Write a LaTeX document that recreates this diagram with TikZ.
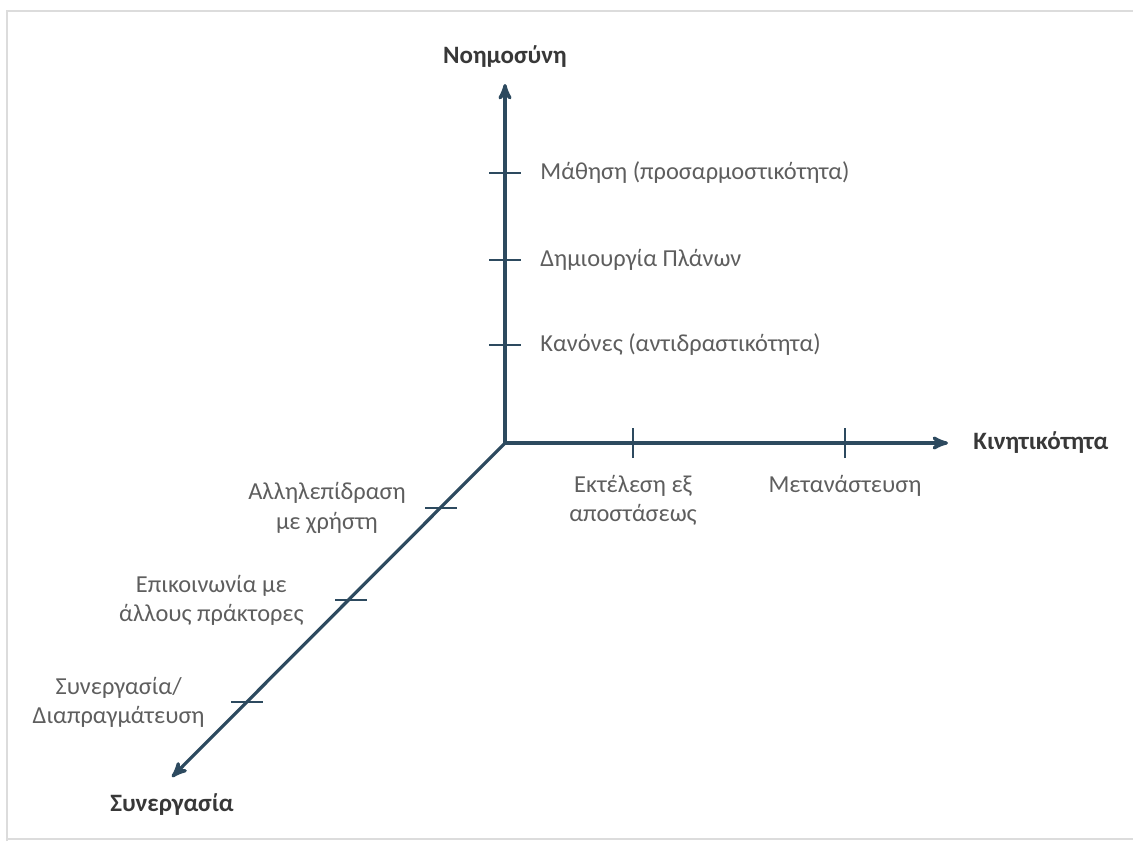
\documentclass[tikz,border=0pt]{standalone}
\usepackage{fontspec}
\setmainfont{Carlito}
\usetikzlibrary{arrows,positioning}
\definecolor{axisblue}{HTML}{2D4A5F}
\definecolor{labelgray}{HTML}{5E5E5E}
\definecolor{titlegray}{HTML}{383838}
\definecolor{framegray}{HTML}{DCDCDC}
\begin{document}
\begin{tikzpicture}[x=0.5pt,y=-0.5pt,>=stealth',
    axis/.style={->,draw=axisblue,line width=1.6pt},
    tick/.style={draw=axisblue,line width=1.4pt},
    label/.style={font=\fontsize{12.2}{14.6}\selectfont,text=labelgray,inner sep=0pt,align=center},
    title/.style={font=\fontsize{12.5}{15}\selectfont\bfseries,text=titlegray,inner sep=0pt}]

\useasboundingbox (0,0) rectangle (1133,841);
\draw[framegray,line width=1.2pt] (7,841) -- (7,11) -- (1133,11);
\draw[framegray,line width=1pt] (7,839) -- (1133,839);

\coordinate (O) at (505,443);
\coordinate (up) at (505,84);
\coordinate (right) at (948,443);
\coordinate (down) at (172,777);

\draw[axis] (O) -- (up);
\draw[axis] (O) -- (right);
\draw[axis] (O) -- (down);

\coordinate (v1) at (505,345);
\coordinate (v2) at (505,260);
\coordinate (v3) at (505,173);
\coordinate (h1) at (633,443);
\coordinate (h2) at (845,443);
\coordinate (d1) at (441,508);
\coordinate (d2) at (351,600);
\coordinate (d3) at (247,702);

\draw[tick] ([xshift=-8pt]v1) -- ([xshift=8pt]v1);
\draw[tick] ([xshift=-8pt]v2) -- ([xshift=8pt]v2);
\draw[tick] ([xshift=-8pt]v3) -- ([xshift=8pt]v3);
\draw[tick] ([yshift=-7.5pt]h1) -- ([yshift=7.5pt]h1);
\draw[tick] ([yshift=-7.5pt]h2) -- ([yshift=7.5pt]h2);
\draw[tick] ([xshift=-8pt]d1) -- ([xshift=8pt]d1);
\draw[tick] ([xshift=-8pt]d2) -- ([xshift=8pt]d2);
\draw[tick] ([xshift=-8pt]d3) -- ([xshift=8pt]d3);

\node[label] (rules) [right=17.5pt of v1] {Κανόνες (αντιδραστικότητα)};
\node[label] (plans) [right=17.5pt of v2] {Δημιουργία Πλάνων};
\node[label] (learning) [right=17.5pt of v3] {Μάθηση (προσαρμοστικότητα)};
\node[label] (remote) [below=16pt of h1] {Εκτέλεση εξ\\αποστάσεως};
\node[label] (migration) [below=16pt of h2] {Μετανάστευση};
\node[label] (user) [left=17.5pt of d1] {Αλληλεπίδραση\\με χρήστη};
\node[label] (agents) [left=23.5pt of d2] {Επικοινωνία με\\άλλους πράκτορες};
\node[label] (negot) [left=21pt of d3] {Συνεργασία/\\Διαπραγμάτευση};

\node[title] (intel) [above=8pt of up] {Νοημοσύνη};
\node[title] (mobility) [right=12.5pt of right] {Κινητικότητα};
\node[title] (coop) [below=8pt of down] {Συνεργασία};

\end{tikzpicture}
\end{document}
